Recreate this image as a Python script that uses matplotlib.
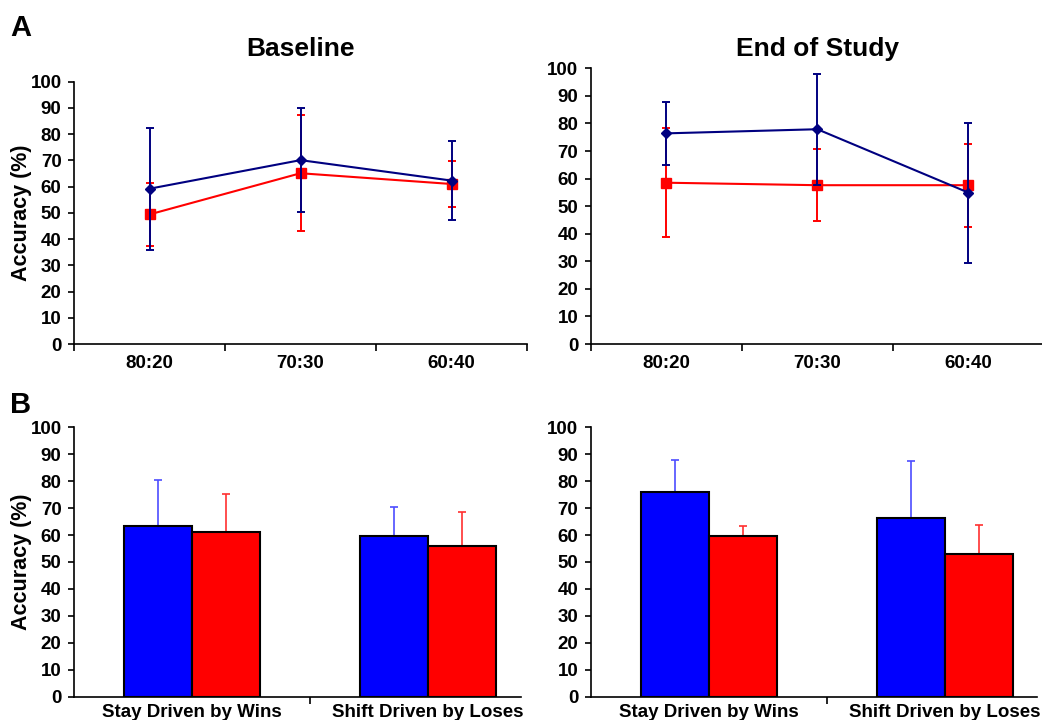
import numpy as np
import matplotlib
matplotlib.use("Agg")
import matplotlib.pyplot as plt

plt.rcParams['font.family'] = ['Liberation Sans', 'DejaVu Sans']
plt.rcParams['font.weight'] = 'bold'

# panel A data (line plots)
ratios = ['80:20', '70:30', '60:40']
base_blue = [59.2, 70.1, 62.3]
base_blue_err = [23.3, 19.8, 15.0]
base_red = [49.4, 65.1, 61.0]
base_red_err = [11.9, 22.1, 8.7]
end_blue = [76.4, 77.9, 54.9]
end_blue_err = [11.3, 20.1, 25.4]
end_red = [58.5, 57.6, 57.6]
end_red_err = [19.8, 13.0, 15.1]

# panel B data (bars)
strategies = ['Stay Driven by Wins', 'Shift Driven by Loses']
bar_base_blue = [63.5, 59.8]
bar_base_blue_err = [16.8, 10.5]
bar_base_red = [61.2, 56.0]
bar_base_red_err = [13.9, 12.4]
bar_end_blue = [76.1, 66.2]
bar_end_blue_err = [11.6, 21.3]
bar_end_red = [59.7, 53.1]
bar_end_red_err = [3.7, 10.5]

W, H = 1042, 720
fig = plt.figure(figsize=(W / 100, H / 100), dpi=100)


def px_axes(left, top, right, bottom):
    return fig.add_axes([left / W, 1 - bottom / H, (right - left) / W, (bottom - top) / H])


def style(ax):
    for s in ['top', 'right']:
        ax.spines[s].set_visible(False)
    for s in ['left', 'bottom']:
        ax.spines[s].set_linewidth(1.2)
    ax.set_ylim(0, 100)
    ax.set_yticks(np.arange(0, 101, 10))
    ax.tick_params(axis='y', length=4, width=1.2, pad=5, labelsize=13.5)
    ax.tick_params(axis='x', which='major', length=0, pad=8, labelsize=13.5)
    ax.tick_params(axis='x', which='minor', length=5, width=1.2)
    for t in ax.get_yticklabels() + ax.get_xticklabels():
        t.set_fontweight('bold')


def line_panel(ax, blue, blue_err, red, red_err):
    x = np.arange(len(ratios))
    ax.errorbar(x, red, yerr=red_err, color='#ff0000', lw=1.5, elinewidth=1.4,
                capsize=3, capthick=1.4, marker='s', ms=6.5, zorder=3)
    ax.errorbar(x, blue, yerr=blue_err, color='#000080', lw=1.5, elinewidth=1.4,
                capsize=3, capthick=1.4, marker='D', ms=5.5, zorder=4)
    ax.set_xticks(x)
    ax.set_xticklabels(ratios)
    ax.set_xticks([-0.5, 0.5, 1.5, 2.5], minor=True)
    style(ax)


def bar_panel(ax, blue, blue_err, red, red_err, xmax):
    x = np.arange(len(strategies))
    w = 0.288
    ax.bar(x - w / 2, blue, w, color='#0000ff', edgecolor='black', lw=1.5, zorder=2)
    ax.bar(x + w / 2, red, w, color='#ff0000', edgecolor='black', lw=1.5, zorder=2)
    ax.errorbar(x - w / 2, blue, yerr=[np.zeros(len(x)), blue_err], fmt='none',
                ecolor='#4d4dff', elinewidth=1.2, capsize=3, capthick=1.2, zorder=1)
    ax.errorbar(x + w / 2, red, yerr=[np.zeros(len(x)), red_err], fmt='none',
                ecolor='#ff3030', elinewidth=1.2, capsize=3, capthick=1.2, zorder=1)
    ax.set_xticks(x)
    ax.set_xticklabels(strategies)
    ax.set_xticks([0.5], minor=True)
    style(ax)
    ax.tick_params(axis='x', which='major', pad=5, labelsize=13.5)
    ax.set_xlim(-0.5, xmax)


ax1 = px_axes(74, 81.7, 527, 344)
line_panel(ax1, base_blue, base_blue_err, base_red, base_red_err)
ax1.set_xlim(-0.5, 2.5)
ax1.set_ylabel('Accuracy (%)', fontsize=15.5, fontweight='bold')
ax1.yaxis.set_label_coords(-42 / 453, 0.5)

ax2 = px_axes(590.7, 68.3, 1042, 344)
line_panel(ax2, end_blue, end_blue_err, end_red, end_red_err)
ax2.set_xlim(-0.5, 2.5 - 2 / 151)

ax3 = px_axes(74, 427.3, 521, 696.7)
bar_panel(ax3, bar_base_blue, bar_base_blue_err, bar_base_red, bar_base_red_err, 1.5 - 25 / 236)
ax3.set_ylabel('Accuracy (%)', fontsize=15.5, fontweight='bold')
ax3.yaxis.set_label_coords(-42 / 447, 0.5)

ax4 = px_axes(590.7, 427.3, 1037, 696.7)
bar_panel(ax4, bar_end_blue, bar_end_blue_err, bar_end_red, bar_end_red_err, 1.5 - 26 / 236)

fig.text(300 / W, 1 - 49 / H, 'Baseline', ha='center', va='center', fontsize=19, fontweight='bold')
fig.text(817 / W, 1 - 49 / H, 'End of Study', ha='center', va='center', fontsize=19, fontweight='bold')
fig.text(10 / W, 1 - 28 / H, 'A', ha='left', va='center', fontsize=21, fontweight='bold')
fig.text(10 / W, 1 - 405 / H, 'B', ha='left', va='center', fontsize=21, fontweight='bold')

fig.savefig('out.png', dpi=100)
